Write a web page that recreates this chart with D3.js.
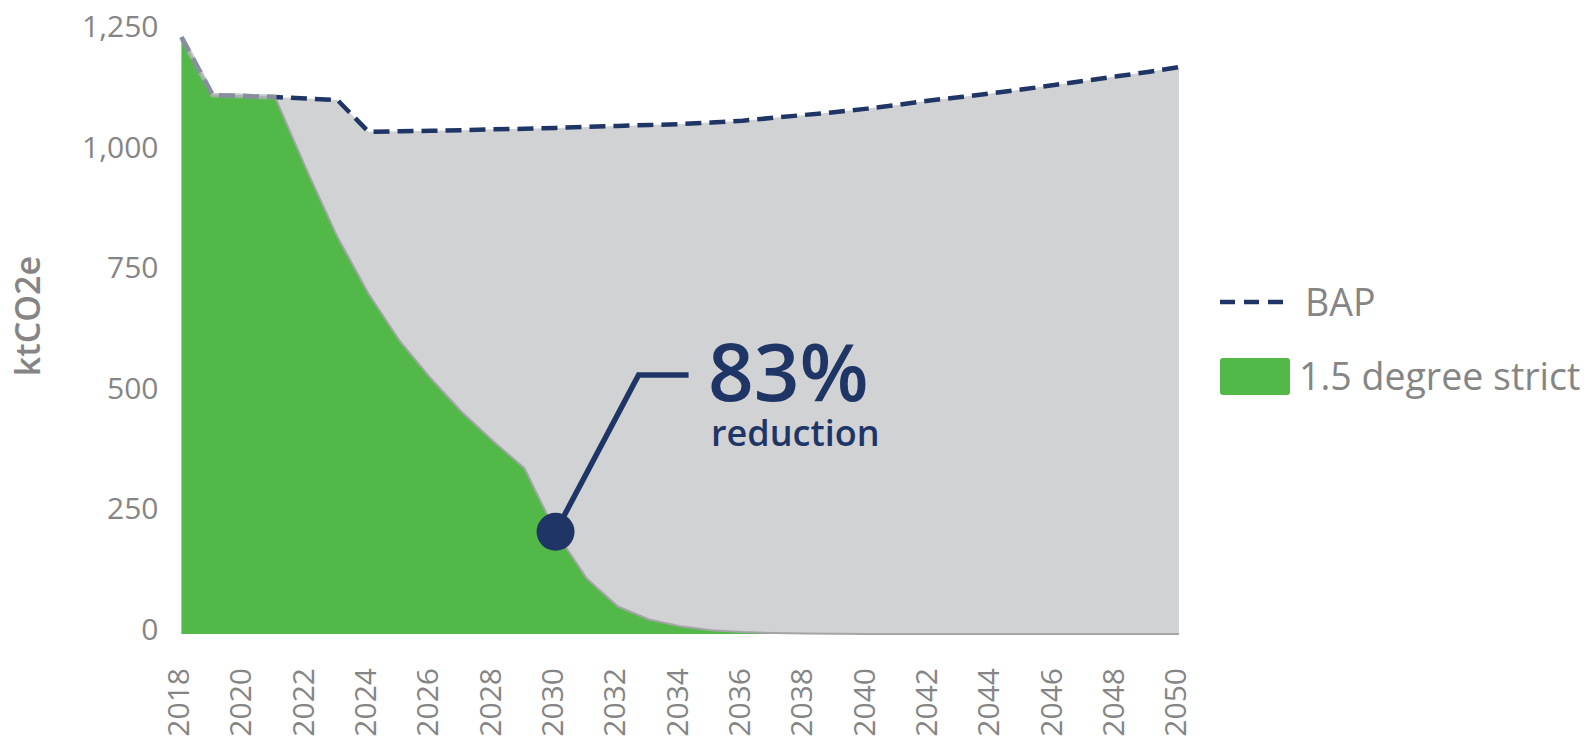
<!DOCTYPE html>
<html>
<head>
<meta charset="utf-8">
<script src="https://cdn.jsdelivr.net/npm/d3@7"></script>
<style>
  html, body { margin: 0; padding: 0; background: #ffffff; }
  svg { display: block; font-family: "Open Sans", "Noto Sans", sans-serif; }
</style>
</head>
<body>
<svg id="chart" width="1591" height="744"></svg>
<script>
// Emissions pathways, ktCO2e per year
const years = [2018, 2019, 2020, 2021, 2022, 2023, 2024, 2025, 2026, 2027, 2028,
  2029, 2030, 2031, 2032, 2033, 2034, 2035, 2036, 2037, 2038, 2039, 2040,
  2041, 2042, 2043, 2044, 2045, 2046, 2047, 2048, 2049, 2050];

const bapValues = [1238, 1118, 1116, 1114, 1111, 1108, 1042, 1043, 1044, 1045, 1047,
  1048, 1050, 1052, 1054, 1056, 1058, 1061, 1065, 1071, 1077, 1083, 1090,
  1098, 1107, 1114, 1122, 1130, 1139, 1148, 1157, 1166, 1176];

const strictValues = [1238, 1118, 1116, 1114, 965, 824, 706, 608, 530, 460, 400,
  344, 212, 115, 57, 30, 16, 8, 4, 2, 1, 0.5, 0,
  0, 0, 0, 0, 0, 0, 0, 0, 0, 0];

const yTicks = [0, 250, 500, 750, 1000, 1250];
const xTicks = [2018, 2020, 2022, 2024, 2026, 2028, 2030, 2032, 2034, 2036, 2038,
  2040, 2042, 2044, 2046, 2048, 2050];

const seriesNames = ["BAP", "1.5 degree strict"];
const annotationYear = 2030;
const annotationPct = "83%";
const annotationText = "reduction";

const NAVY = "#1f3566";
const GREEN = "#52b848";
const GREY_AREA = "#d1d2d4";
const TEXT_GREY = "#858585";

const svg = d3.select("#chart");

const x = d3.scaleLinear().domain([2018, 2050]).range([181.5, 1179]);
const y = d3.scaleLinear().domain([0, 1250]).range([634, 31.5]);

const bap = years.map((yr, i) => ({ year: yr, value: bapValues[i] }));
const strict = years.map((yr, i) => ({ year: yr, value: strictValues[i] }));

const area = d3.area().x(d => x(d.year)).y0(y(0)).y1(d => y(d.value));
const line = d3.line().x(d => x(d.year)).y(d => y(d.value));

// BAP envelope
svg.append("path").datum(bap)
  .attr("d", area)
  .attr("fill", GREY_AREA);

// 1.5 degree strict pathway
svg.append("path").datum(strict)
  .attr("d", area)
  .attr("fill", GREEN);

svg.append("path").datum(strict)
  .attr("d", line)
  .attr("fill", "none")
  .attr("stroke", "#a3a5a7")
  .attr("stroke-width", 2);

// BAP dashed line
svg.append("path").datum(bap)
  .attr("d", line)
  .attr("fill", "none")
  .attr("stroke", NAVY)
  .attr("stroke-width", 4.5)
  .attr("stroke-dasharray", "16 8");

// where both pathways coincide the grey outline sits over the dashes
const shared = strict.filter((d, i) => d.value >= bapValues[i]);
svg.append("path").datum(shared.concat([{ year: shared[shared.length - 1].year + 0.05, value: bapValues[shared.length - 1] }]))
  .attr("d", line)
  .attr("fill", "none")
  .attr("stroke", "#b4b6b8")
  .attr("stroke-opacity", 0.7)
  .attr("stroke-width", 5);

// Y axis
const yAxis = svg.append("g")
  .attr("transform", `translate(${x(2018) - 23},0)`)
  .call(d3.axisLeft(y).tickValues(yTicks).tickSize(0).tickPadding(0).tickFormat(d3.format(",")));
yAxis.select(".domain").remove();
yAxis.selectAll("text")
  .attr("fill", TEXT_GREY)
  .attr("font-size", 30)
  .attr("dy", "0.18em")
  .style("font-family", "'Open Sans', sans-serif");

// X axis
const xAxis = svg.append("g")
  .attr("transform", `translate(0,${y(0)})`)
  .call(d3.axisBottom(x).tickValues(xTicks).tickSize(0).tickFormat(d3.format("d")));
xAxis.select(".domain").remove();
xAxis.selectAll("text")
  .attr("fill", TEXT_GREY)
  .attr("font-size", 30)
  .attr("text-anchor", "end")
  .attr("transform", "rotate(-90)")
  .attr("x", -34)
  .attr("y", -4)
  .attr("dy", "0.36em")
  .style("font-family", "'Open Sans', sans-serif");

// Y axis title
svg.append("text")
  .attr("transform", `translate(28,316) rotate(-90)`)
  .attr("text-anchor", "middle")
  .attr("dy", "0.36em")
  .attr("fill", TEXT_GREY)
  .attr("font-size", 34)
  .attr("font-weight", 600)
  .text("ktCO2e");

// Annotation
const ai = years.indexOf(annotationYear);
const ax = x(annotationYear), ay = y(strictValues[ai]);
const elbow = [ax + 83, 375];
svg.append("polyline")
  .attr("points", [[ax, ay], elbow, [elbow[0] + 50, elbow[1]]].map(p => p.join(",")).join(" "))
  .attr("fill", "none")
  .attr("stroke", NAVY)
  .attr("stroke-width", 5.5);
svg.append("circle")
  .attr("cx", ax).attr("cy", ay).attr("r", 19)
  .attr("fill", NAVY);
svg.append("text")
  .attr("x", 708).attr("y", 401)
  .attr("fill", NAVY)
  .attr("font-size", 80)
  .attr("font-weight", 600)
  .text(annotationPct);
svg.append("text")
  .attr("x", 711).attr("y", 446)
  .attr("fill", NAVY)
  .attr("font-size", 36)
  .attr("font-weight", 600)
  .text(annotationText);

// Legend
const legend = svg.append("g");
legend.append("line")
  .attr("x1", 1220).attr("x2", 1289)
  .attr("y1", 302).attr("y2", 302)
  .attr("stroke", NAVY)
  .attr("stroke-width", 4.5)
  .attr("stroke-dasharray", "15 9");
legend.append("text")
  .attr("x", 1305).attr("y", 302)
  .attr("dy", "0.36em")
  .attr("fill", TEXT_GREY)
  .attr("font-size", 37.5)
  .attr("font-weight", 500)
  .text(seriesNames[0]);
legend.append("rect")
  .attr("x", 1220).attr("y", 358)
  .attr("width", 70).attr("height", 37)
  .attr("rx", 3)
  .attr("fill", GREEN);
legend.append("text")
  .attr("x", 1299).attr("y", 376)
  .attr("dy", "0.36em")
  .attr("fill", TEXT_GREY)
  .attr("font-size", 37.5)
  .attr("font-weight", 500)
  .text(seriesNames[1]);
</script>
</body>
</html>
